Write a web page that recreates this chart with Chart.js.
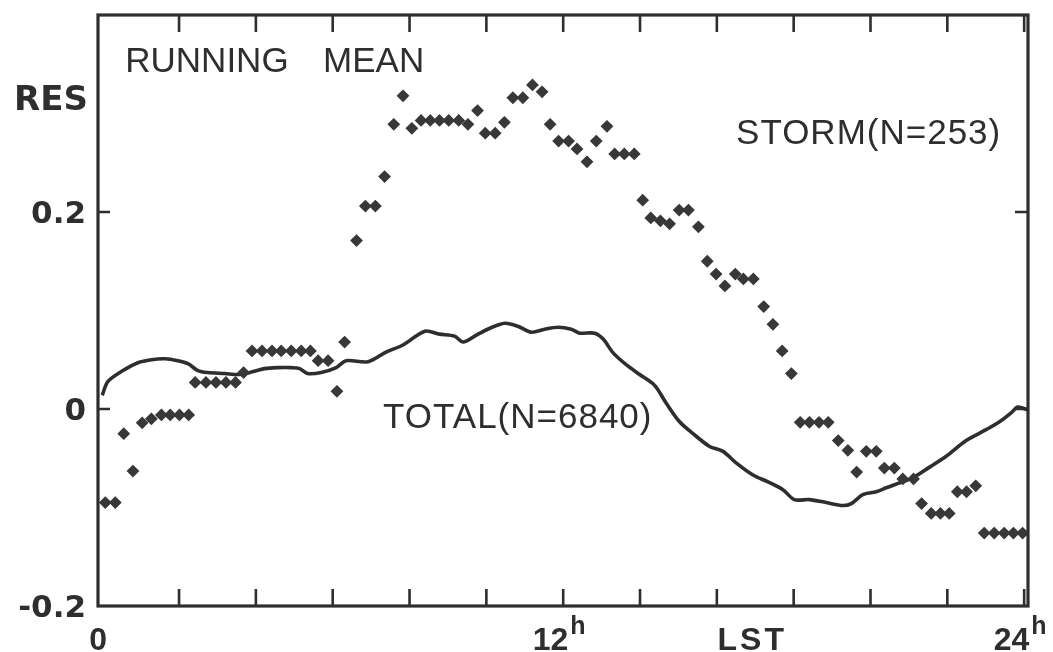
<!DOCTYPE html>
<html>
<head>
<meta charset="utf-8">
<title>Running mean RES vs LST</title>
<script src="https://cdn.jsdelivr.net/npm/chart.js@4/dist/chart.umd.min.js"></script>
<style>
  html, body { margin: 0; padding: 0; background: #ffffff; }
  #chart { display: block; }
</style>
</head>
<body>
<canvas id="chart" width="1053" height="652"></canvas>
<script>
(function () {
  "use strict";

  // ----- Data -----
  // TOTAL (N=6840) running mean, hours LST
  const totalHours = [
    0.0, 0.15, 0.54, 0.93, 1.28, 1.63, 1.97, 2.23, 2.49, 2.75, 3.19, 3.54, 3.84,
    4.23, 4.58, 4.92, 5.14, 5.34, 5.70, 6.09, 6.35, 6.92, 7.40, 7.83, 8.40, 8.78,
    9.17, 9.39, 9.74, 10.09, 10.48, 10.82, 11.17, 11.52, 11.87, 12.21, 12.43, 12.82,
    13.04, 13.30, 13.64, 13.99, 14.38, 14.68, 15.03, 15.38, 15.81, 16.16, 16.51,
    16.94, 17.33, 17.72, 18.02, 18.41, 18.85, 19.28, 19.50, 19.80, 20.15, 20.41,
    20.76, 21.10, 21.54, 21.97, 22.49, 23.01, 23.36, 23.66, 23.83, 24.1
  ];
  const totalRes = [
    0.014, 0.028, 0.039, 0.047, 0.050, 0.051, 0.049, 0.046, 0.039, 0.037, 0.036, 0.035, 0.037,
    0.041, 0.042, 0.042, 0.041, 0.036, 0.037, 0.042, 0.049, 0.048, 0.058, 0.065, 0.079, 0.076,
    0.074, 0.068, 0.075, 0.082, 0.087, 0.084, 0.078, 0.081, 0.083, 0.081, 0.077, 0.077,
    0.071, 0.057, 0.045, 0.035, 0.024, 0.006, -0.013, -0.025, -0.038, -0.043, -0.055,
    -0.067, -0.074, -0.082, -0.092, -0.092, -0.095, -0.098, -0.096, -0.087, -0.084, -0.080,
    -0.075, -0.070, -0.059, -0.048, -0.032, -0.021, -0.013, -0.004, 0.002, -0.001
  ];

  // STORM (N=253) running mean, hours LST
  const stormHours = [
    0.08, 0.34, 0.56, 0.80, 1.04, 1.28, 1.54, 1.77, 2.01, 2.25,
    2.42, 2.70, 2.96, 3.22, 3.47, 3.68, 3.90, 4.16, 4.42, 4.66,
    4.92, 5.18, 5.42, 5.62, 5.88, 6.11, 6.31, 6.62, 6.85, 7.11,
    7.35, 7.59, 7.83, 8.06, 8.30, 8.54, 8.78, 9.02, 9.28, 9.52,
    9.77, 9.97, 10.23, 10.47, 10.69, 10.95, 11.20, 11.45, 11.66, 11.88,
    12.14, 12.36, 12.62, 12.86, 13.14, 13.34, 13.59, 13.85, 14.07, 14.28,
    14.53, 14.77, 15.02, 15.26, 15.52, 15.75, 15.98, 16.21, 16.48, 16.69,
    16.95, 17.22, 17.46, 17.70, 17.94, 18.17, 18.41, 18.66, 18.90, 19.16,
    19.41, 19.64, 19.89, 20.15, 20.36, 20.62, 20.84, 21.12, 21.33, 21.58,
    21.82, 22.05, 22.26, 22.50, 22.74, 22.96, 23.22, 23.48, 23.72, 23.96
  ];
  const stormRes = [
    -0.095, -0.095, -0.025, -0.063, -0.014, -0.010, -0.006, -0.006, -0.006, -0.006,
    0.027, 0.027, 0.027, 0.027, 0.027, 0.037, 0.059, 0.059, 0.059, 0.059,
    0.059, 0.059, 0.059, 0.049, 0.049, 0.018, 0.068, 0.171, 0.206, 0.206,
    0.236, 0.289, 0.318, 0.285, 0.293, 0.293, 0.293, 0.293, 0.293, 0.289,
    0.303, 0.280, 0.280, 0.291, 0.316, 0.316, 0.329, 0.322, 0.289, 0.272,
    0.272, 0.264, 0.251, 0.272, 0.287, 0.259, 0.259, 0.259, 0.212, 0.194,
    0.191, 0.188, 0.202, 0.202, 0.185, 0.150, 0.137, 0.125, 0.137, 0.132,
    0.132, 0.104, 0.086, 0.059, 0.036, -0.0135, -0.0135, -0.0135, -0.0135, -0.032,
    -0.042, -0.064, -0.043, -0.043, -0.060, -0.060, -0.071, -0.071, -0.096, -0.106,
    -0.106, -0.106, -0.084, -0.084, -0.078, -0.126, -0.126, -0.126, -0.126, -0.126
  ];

  // Axis ticks
  const hourTicks = [2, 4, 6, 8, 10, 12, 14, 16, 18, 20, 22, 24];
  const resTicks = [0.2, 0];
  const resLabels = [["0.2", 0.2], ["0", 0], ["-0.2", -0.2]];
  const hourLabels = [["0", 0, ""], ["12", 12, "h"], ["24", 24, "h"]];

  // ----- Style -----
  const INK = "#2e2e2e";
  const DOT = "#383838";
  const SANS = "'Liberation Sans', Arial, sans-serif";

  const toXY = (xs, ys) => xs.map((x, i) => ({ x: x, y: ys[i] }));

  /**
   * Frame, inward ticks, tick labels and the in-plot annotations.
   */
  const framePlugin = {
    id: "frameAndText",
    afterDraw(chart) {
      const ctx = chart.ctx;
      const a = chart.chartArea;
      const sx = chart.scales.x;
      const sy = chart.scales.y;

      ctx.save();
      ctx.strokeStyle = INK;
      ctx.lineWidth = 3.2;
      ctx.strokeRect(a.left, a.top, a.right - a.left, a.bottom - a.top);

      // x ticks on bottom and top, pointing inward
      ctx.lineWidth = 2.6;
      hourTicks.forEach((h) => {
        const px = sx.getPixelForValue(h);
        ctx.beginPath();
        ctx.moveTo(px, a.bottom);
        ctx.lineTo(px, a.bottom - 17);
        ctx.moveTo(px, a.top);
        ctx.lineTo(px, a.top + 17);
        ctx.stroke();
      });
      // y ticks left and right
      resTicks.forEach((v) => {
        const py = sy.getPixelForValue(v);
        ctx.beginPath();
        ctx.moveTo(a.left, py);
        ctx.lineTo(a.left + 12, py);
        ctx.moveTo(a.right, py);
        ctx.lineTo(a.right - 13, py);
        ctx.stroke();
      });

      ctx.fillStyle = INK;

      // y tick labels
      ctx.font = "bold 31px 'DejaVu Sans', sans-serif";
      ctx.textAlign = "right";
      ctx.textBaseline = "middle";
      resLabels.forEach(([txt, v]) => {
        ctx.fillText(txt, 86, sy.getPixelForValue(v) + 3);
      });
      ctx.textAlign = "left";
      ctx.textBaseline = "alphabetic";
      ctx.font = "bold 34px 'DejaVu Sans', sans-serif";
      ctx.fillText("RES", 14, 110);

      // x tick labels with superscript h
      hourLabels.forEach(([txt, h, sup]) => {
        ctx.font = "bold 32px " + SANS;
        const w1 = ctx.measureText(txt).width;
        ctx.font = "bold 25px " + SANS;
        const w2 = sup ? ctx.measureText(sup).width + 2 : 0;
        const start = sx.getPixelForValue(h) - 4 - (w1 + w2) / 2;
        ctx.font = "bold 32px " + SANS;
        ctx.fillText(txt, start, 650);
        if (sup) {
          ctx.font = "bold 25px " + SANS;
          ctx.fillText(sup, start + w1 + 2, 634);
        }
      });
      ctx.font = "bold 32px " + SANS;
      ctx.textAlign = "center";
      if ("letterSpacing" in ctx) ctx.letterSpacing = "3px";
      ctx.fillText("LST", sx.getPixelForValue(16.87) + 2, 650);
      if ("letterSpacing" in ctx) ctx.letterSpacing = "0px";

      // annotations inside the plot
      ctx.textAlign = "left";
      ctx.font = "35px " + SANS;
      ctx.fillText("RUNNING", sx.getPixelForValue(0.6), sy.getPixelForValue(0.342));
      ctx.fillText("MEAN", sx.getPixelForValue(5.75), sy.getPixelForValue(0.342));
      if ("letterSpacing" in ctx) ctx.letterSpacing = "1px";
      ctx.fillText("STORM(N=253)", sx.getPixelForValue(16.5), sy.getPixelForValue(0.269));
      ctx.fillText("TOTAL(N=6840)", sx.getPixelForValue(7.31), sy.getPixelForValue(-0.019));
      ctx.restore();
    },
  };

  function init() {
    const canvas = document.getElementById("chart");
    new Chart(canvas.getContext("2d"), {
      type: "scatter",
      data: {
        datasets: [
          {
            label: "TOTAL(N=6840)",
            data: toXY(totalHours, totalRes),
            showLine: true,
            borderColor: INK,
            borderWidth: 3.6,
            pointRadius: 0,
            tension: 0.3,
            order: 2,
          },
          {
            label: "STORM(N=253)",
            data: toXY(stormHours, stormRes),
            showLine: false,
            pointStyle: "rectRot",
            pointRadius: 5.4,
            borderWidth: 1.4,
            backgroundColor: DOT,
            borderColor: DOT,
            order: 1,
          },
        ],
      },
      options: {
        responsive: false,
        animation: false,
        devicePixelRatio: 1,
        layout: { padding: { left: 98, right: 25, top: 15, bottom: 46 } },
        plugins: { legend: { display: false }, tooltip: { enabled: false } },
        scales: {
          x: { type: "linear", min: -0.11, max: 24.1, display: false },
          y: { type: "linear", min: -0.2, max: 0.4, display: false },
        },
      },
      plugins: [framePlugin],
    });
  }

  init();
})();
</script>
</body>
</html>
